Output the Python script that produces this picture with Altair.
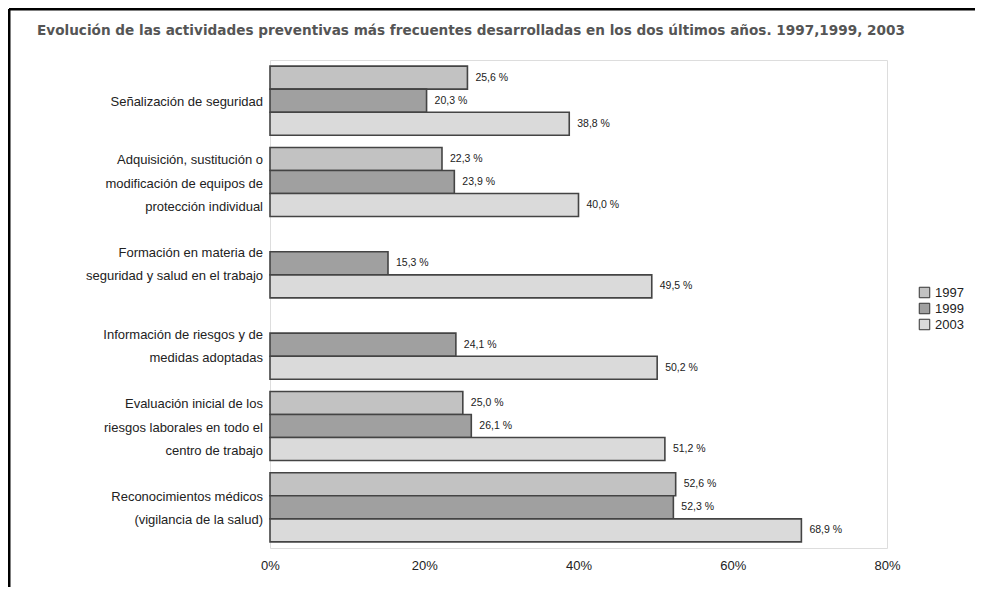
import altair as alt
import pandas as pd

categories = [
    "Señalización de seguridad",
    "Adquisición, sustitución o|modificación de equipos de|protección individual",
    "Formación en materia de|seguridad y salud en el trabajo",
    "Información de riesgos y de|medidas adoptadas",
    "Evaluación inicial de los|riesgos laborales en todo el|centro de trabajo",
    "Reconocimientos médicos|(vigilancia de la salud)",
]
years = ["1997", "1999", "2003"]
v1997 = [25.6, 22.3, None, None, 25.0, 52.6]
v1999 = [20.3, 23.9, 15.3, 24.1, 26.1, 52.3]
v2003 = [38.8, 40.0, 49.5, 50.2, 51.2, 68.9]
colors = ["#c2c2c2", "#a0a0a0", "#dadada"]
x_ticks = [0, 20, 40, 60, 80]
title = "Evolución de las actividades preventivas más frecuentes desarrolladas en los dos últimos años. 1997,1999, 2003"

rows = []
for yr, vals in zip(years, [v1997, v1999, v2003]):
    for c, v in zip(categories, vals):
        rows.append({"cat": c, "year": yr, "value": v})
df = pd.DataFrame(rows)

# one row per label line; slot places lines centred inside the category band
line_rows = []
for c in categories:
    parts = c.split("|")
    n = len(parts)
    for i, p in enumerate(parts):
        line_rows.append({"cat": c, "line": p, "slot": 3 - (n - 1) + 2 * i})
line_df = pd.DataFrame(line_rows)

W, H = 617, 488
PL, PT, PR, PB = 262, 52, 88, 39

y_scale = alt.Scale(domain=categories, paddingInner=0.15, paddingOuter=0.075)
y_enc = alt.Y("cat:N", sort=categories, scale=y_scale,
              axis=alt.Axis(title=None, labels=False, ticks=False, domain=False))
yoff = alt.YOffset("year:N", sort=years, scale=alt.Scale(paddingInner=0, paddingOuter=0))
x_enc = alt.X("value:Q", scale=alt.Scale(domain=[0, 80], nice=False),
              axis=alt.Axis(title=None, values=x_ticks, labelExpr="datum.value + '%'",
                            labelFont="Liberation Sans", labelFontSize=13,
                            labelColor="#222", labelPadding=11, ticks=False,
                            labelFlush=False, domain=False, grid=False))

base = alt.Chart(df)
bars = base.mark_bar(stroke="#444444", strokeWidth=1.6).encode(
    y=y_enc, yOffset=yoff, x=x_enc,
    color=alt.Color("year:N", sort=years,
                    scale=alt.Scale(domain=years, range=colors),
                    legend=alt.Legend(title=None, orient="none", legendX=648, legendY=226,
                                      symbolType="square", symbolSize=110,
                                      symbolStrokeColor="#333", symbolStrokeWidth=1,
                                      labelFont="Liberation Sans", labelFontSize=13,
                                      labelColor="#222", rowPadding=1, labelOffset=4)),
)
labels = base.transform_filter("isValid(datum.value)").transform_calculate(
    lbl="replace(format(datum.value, '.1f'), '.', ',') + ' %'"
).mark_text(align="left", baseline="middle", dx=8, font="Liberation Sans",
            fontSize=10.5, color="#222").encode(
    y=alt.Y("cat:N", sort=categories, scale=y_scale), yOffset=yoff, x="value:Q", text="lbl:N")

bar_layer = alt.layer(bars, labels)

cat_labels = alt.Chart(line_df).mark_text(
    align="right", baseline="middle", dy=1.5,
    font="Liberation Sans", fontSize=13, color="#222").encode(
    y=alt.Y("cat:N", sort=categories, scale=y_scale,
            axis=alt.Axis(title=None, labels=False, ticks=False, domain=False)),
    yOffset=alt.YOffset("slot:O", scale=alt.Scale(type="point", domain=[0, 1, 2, 3, 4, 5, 6],
                                                  padding=0)),
    x=alt.value(-7), text="line:N")

border_top = alt.Chart(pd.DataFrame({"a": [0]})).mark_rule(color="black", strokeWidth=3).encode(
    x=alt.value(-261), x2=alt.value(W + PR), y=alt.value(-PT + 1))
border_left = alt.Chart(pd.DataFrame({"a": [0]})).mark_rule(color="black", strokeWidth=3).encode(
    x=alt.value(-PL + 1), y=alt.value(-PT + 1), y2=alt.value(H + PB))
title_mark = alt.Chart(pd.DataFrame({"t": [title]})).mark_text(
    align="left", baseline="middle", font="DejaVu Sans", fontWeight="bold",
    fontSize=13.6, color="#555").encode(x=alt.value(-233), y=alt.value(-29), text="t:N")

chart = alt.layer(bar_layer, cat_labels, border_top, border_left, title_mark).resolve_scale(
    yOffset="independent"
).properties(
    width=W, height=H, autosize="none",
    padding={"left": PL, "top": PT, "right": PR, "bottom": PB},
).configure_view(stroke="#a8a8a8", strokeWidth=2).configure(background="white")

chart.save("out.html", embed_options={"renderer": "svg", "actions": False})
